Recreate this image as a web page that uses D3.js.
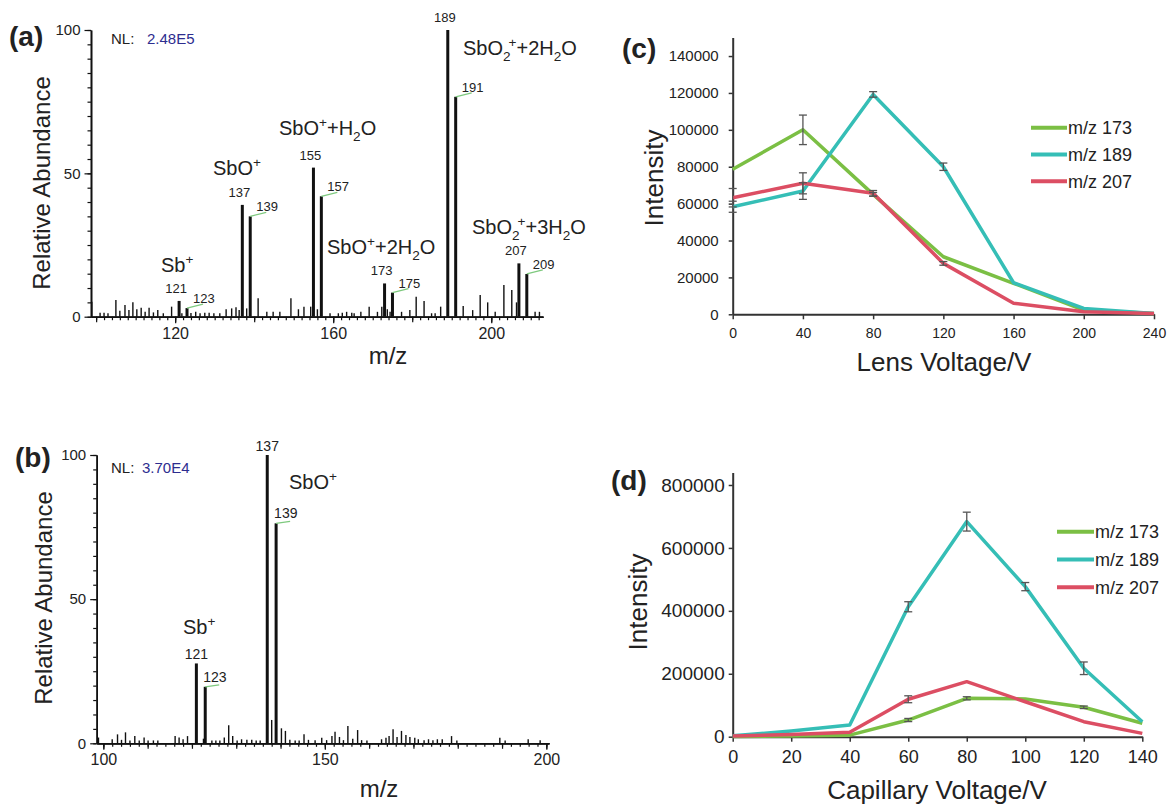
<!DOCTYPE html>
<html>
<head>
<meta charset="utf-8">
<script src="https://cdn.jsdelivr.net/npm/d3@7"></script>
<style>
  body { margin: 0; background: #fff; }
  svg { display: block; }
  text { font-family: "Liberation Sans", Arial, sans-serif; fill: #222; }
</style>
</head>
<body>
<svg id="fig" width="1171" height="804"></svg>
<script>
// ---------------- data ----------------
// Mass spectrum (a): [m/z, relative abundance %]
const specA_peaks = [
  [98.9,5.2],[101,1.4],[102,1.4],[103,1.2],[105,5.8],[106,2.1],[107.3,4.1],[108.3,2.3],[109.3,5.0],
  [110.3,2.6],[111.4,3.1],[112.4,1.7],[113.4,3.1],[114.5,1.5],[115.6,2.3],[117,1.2],[119.1,3.5],
  [121,5.5],[121.7,1.2],[123,3.0],[124,1.3],[125.2,1.7],[126.3,1.2],[127.5,1.4],[128.6,1.4],[129.8,1.2],
  [131.3,1.2],[132.9,2.6],[134.3,2.9],[135.4,3.3],[136.2,2.3],[137,39],[138.1,2.9],[139,35],[141,6.4],
  [143.2,1.7],[144.8,1.7],[146.5,1.7],[149.3,6.4],[151.2,2.6],[152.6,3.5],[154.3,3.5],[155,52],[156,2.6],
  [157,42],[159.2,1.2],[161.3,1.2],[162.3,1.4],[163.4,1.7],[164.7,1.4],[165.3,1.2],[167,1.7],[169.1,3.5],
  [171.2,1.7],[172.3,3.5],[173,11.6],[173.7,2.6],[174.4,1.7],[175,8.4],[177.3,1.7],[179.4,2.3],[181,7.0],
  [183,5.5],[184.9,1.2],[185.8,1.2],[187.2,3.5],[189,100],[191,76.7],[192.9,3.7],[195.3,2.3],[197.2,7.6],
  [199.1,5.0],[201,1.7],[203.2,11.1],[205.2,9.3],[206.4,5.0],[207,18.6],[209,14.9],[211.1,1.7],[212.2,1.7]
];
const specA_tagged   = [121, 137, 155, 173, 189, 207];
const specA_isotopes = [123, 139, 157, 175, 191, 209];
const specA_NL = "2.48E5";
const specA_xTicks = [120, 160, 200];

// Mass spectrum (b): [m/z, relative abundance %]
const specB_peaks = [
  [98.9,2.0],[102,1.4],[103.2,3.1],[104.1,1.2],[105,3.8],[106,1.0],[107.1,2.5],[108.1,1.0],[109.2,2.0],
  [110.1,1.0],[111.3,1.0],[112.3,1.0],[116.2,2.5],[117.1,2.0],[118,1.4],[119,2.5],[121,27.7],[122.6,1.6],
  [123,19.6],[124.5,1.0],[125.4,1.0],[126.3,1.0],[127.3,2.0],[128.3,6.3],[129.2,2.5],[130.2,1.0],[131.2,1.4],
  [132.4,1.2],[133.5,1.2],[134.5,1.0],[135.4,1.0],[137,100],[138,8.1],[139,76.3],[140.2,5.2],[141.1,4.3],
  [142.1,1.2],[143.3,1.0],[144.2,1.0],[145.3,3.1],[146.3,1.2],[147.8,1.1],[149.3,1.9],[150.4,1.1],[151.6,2.5],
  [152.3,4.0],[153.3,2.2],[154.2,1.1],[155.2,6.0],[156.3,1.6],[157.4,4.6],[158.3,1.1],[159.5,1.0],[162.8,1.4],
  [163.8,1.9],[164.5,2.5],[165.4,4.9],[166.3,2.2],[167.3,4.3],[168.3,2.9],[169.2,2.2],[170.3,1.9],[171.1,1.4],
  [172.4,1.1],[173.4,1.4],[174.4,1.1],[175.4,1.4],[176.5,1.4],[178.6,2.5],[179.8,1.0],[189.5,1.9],[190.7,1.0],
  [195.9,1.4],[198.6,1.1]
];
const specB_tagged   = [121, 137];
const specB_isotopes = [123, 139];
const specB_NL = "3.70E4";
const specB_xTicks = [100, 150, 200];

// Ion assignments: [text, mode] pieces ("" normal, "sup", "sub")
const ionsA = [
  [["Sb",""],["+","sup"]],
  [["SbO",""],["+","sup"]],
  [["SbO",""],["+","sup"],["+H",""],["2","sub"],["O",""]],
  [["SbO",""],["+","sup"],["+2H",""],["2","sub"],["O",""]],
  [["SbO",""],["2","sub"],["+","sup"],["+2H",""],["2","sub"],["O",""]],
  [["SbO",""],["2","sub"],["+","sup"],["+3H",""],["2","sub"],["O",""]]
];
const ionsB = [
  [["Sb",""],["+","sup"]],
  [["SbO",""],["+","sup"]]
];

// Lens voltage scan (c)
const lensV       = [0, 40, 80, 120, 160, 200, 240];
const lens173     = [78600, 100000, 65000, 31200, 16800, 2300, 500];
const lens173_err = [0, 8000, 1000, 0, 0, 0, 0];
const lens189     = [58300, 66800, 119200, 80000, 17100, 3200, 500];
const lens189_err = [3000, 4500, 1500, 2000, 0, 0, 0];
const lens207     = [63200, 71000, 65600, 27600, 6000, 1400, 500];
const lens207_err = [5000, 5700, 1500, 1000, 0, 0, 0];

// Capillary voltage scan (d)
const capV       = [0, 20, 40, 60, 80, 100, 120, 140];
const cap173     = [1000, 2000, 5000, 53000, 122000, 120000, 93500, 42600];
const cap173_err = [0, 0, 0, 5000, 5000, 0, 4000, 0];
const cap189     = [3000, 18000, 37000, 413000, 683600, 477000, 217500, 47700];
const cap189_err = [0, 0, 0, 16000, 30000, 13000, 20000, 0];
const cap207     = [2000, 7000, 14000, 119000, 175000, 111000, 47700, 10600];
const cap207_err = [0, 0, 0, 11000, 0, 0, 0, 0];

const seriesNames = ["m/z 173", "m/z 189", "m/z 207"];
const seriesColors = ["#7bbf44", "#35beb6", "#dc4e63"];

// ---------------- drawing ----------------
const svg = d3.select("#fig");
const FONT = '"Liberation Sans", Arial, sans-serif';

// text with superscript / subscript pieces
function richText(g, x, y, pieces, size, anchor) {
  const t = g.append("text").attr("x", x).attr("y", y)
    .attr("font-size", size).attr("text-anchor", anchor || "start");
  let cur = 0;
  pieces.forEach(([s, m], i) => {
    const target = m === "sup" ? -0.42 * size : m === "sub" ? 0.28 * size : 0;
    const ts = t.append("tspan").attr("dy", target - cur)
      .attr("font-size", m ? size * 0.68 : size).text(s);
    // stack a superscript right after a subscript
    if (m === "sup" && i > 0 && pieces[i - 1][1] === "sub") ts.attr("dx", -2);
    cur = target;
  });
  return t;
}

function styleAxis(g, color, width, fontSize) {
  g.attr("font-family", FONT).attr("font-size", fontSize);
  g.selectAll("path.domain").attr("stroke", color).attr("stroke-width", width);
  g.selectAll(".tick line").attr("stroke", color).attr("stroke-width", width * 0.75);
  g.selectAll(".tick text").attr("fill", "#222");
}

function drawSpectrum(o) {
  const g = svg.append("g");
  const x = d3.scaleLinear().domain(o.xDomain).range(o.xRange);
  const y = d3.scaleLinear().domain([0, 100]).range([o.y0, o.y100]);
  const bold = new Set([...o.tagged, ...o.isotopes]);

  // minor + major ticks on both axes
  const xMinor = d3.axisBottom(x).tickValues(d3.range(Math.ceil(o.xDomain[0] / 2) * 2, o.xDomain[1], 2))
    .tickSize(3.5).tickSizeOuter(0).tickFormat("");
  const xMid = d3.axisBottom(x).tickValues(d3.range(Math.ceil(o.xDomain[0] / o.midStep) * o.midStep, o.xDomain[1], o.midStep))
    .tickSize(5.5).tickSizeOuter(0).tickFormat("");
  const xMajor = d3.axisBottom(x).tickValues(o.xTicks).tickSize(6.5).tickPadding(4).tickSizeOuter(0);
  [xMinor, xMid, xMajor].forEach(ax => {
    const a = g.append("g").attr("transform", `translate(0,${o.y0})`).call(ax);
    styleAxis(a, "#111", 1.6, 16);
  });
  const yMinor = d3.axisLeft(y).tickValues(d3.range(0, 101, 5)).tickSize(3.5).tickSizeOuter(0).tickFormat("");
  const yMajor = d3.axisLeft(y).tickValues([0, 50, 100]).tickSize(6.5).tickPadding(4).tickSizeOuter(0);
  [yMinor, yMajor].forEach(ax => {
    const a = g.append("g").attr("transform", `translate(${o.xRange[0]},0)`).call(ax);
    styleAxis(a, "#111", 1.6, 15);
  });

  // peaks
  g.append("g").selectAll("line").data(o.peaks).join("line")
    .attr("x1", d => x(d[0])).attr("x2", d => x(d[0]))
    .attr("y1", o.y0).attr("y2", d => y(d[1]))
    .attr("stroke", "#111")
    .attr("stroke-width", d => bold.has(d[0]) ? 3 : 1.4);

  const peakOf = mz => o.peaks.find(p => p[0] === mz);

  // m/z tags on the main peaks
  o.tagged.forEach(mz => {
    const p = peakOf(mz);
    g.append("text").attr("x", x(mz) + o.tagDx).attr("y", y(p[1]) - o.tagGap)
      .attr("text-anchor", "middle").attr("font-size", o.tagSize).text(mz);
  });
  // isotope tags with a short leader
  o.isotopes.forEach(mz => {
    const p = peakOf(mz);
    const px = x(mz), py = y(p[1]);
    g.append("line").attr("x1", px).attr("y1", py).attr("x2", px + o.leadLen).attr("y2", py - o.leadRise)
      .attr("stroke", "#7ec97e").attr("stroke-width", 1.3);
    g.append("text").attr("x", px + o.isoDx).attr("y", py - o.isoGap)
      .attr("font-size", o.tagSize).text(mz);
  });

  // ion assignments
  o.ions.forEach((pieces, i) => {
    richText(g, o.ionPos[i][0], o.ionPos[i][1], pieces, 20);
  });

  // normalisation level
  const nl = g.append("text").attr("x", o.nlPos[0]).attr("y", o.nlPos[1]).attr("font-size", 15);
  nl.append("tspan").text("NL:");
  nl.append("tspan").attr("x", o.nlPos[2]).attr("fill", "#2d2d8f").text(o.nl);

  // axis titles and panel letter
  g.append("text").attr("transform", `translate(${o.yTitle[0]},${o.yTitle[1]}) rotate(-90)`)
    .attr("text-anchor", "middle").attr("font-size", 24).text("Relative Abundance");
  g.append("text").attr("x", o.xTitle[0]).attr("y", o.xTitle[1])
    .attr("text-anchor", "middle").attr("font-size", 24).text("m/z");
  g.append("text").attr("x", o.letter[0]).attr("y", o.letter[1])
    .attr("font-size", 28).attr("font-weight", "bold").attr("fill", "#111").text(o.letter[2]);
}

drawSpectrum({
  peaks: specA_peaks, tagged: specA_tagged, isotopes: specA_isotopes, ions: ionsA, nl: specA_NL,
  xTicks: specA_xTicks, midStep: 20,
  xDomain: [98.7, 213.1], xRange: [91, 543], y0: 316.7, y100: 30,
  tagDx: -3, tagGap: 8, tagSize: 13,
  leadLen: 16, leadRise: 4, isoDx: 6, isoGap: 5,
  ionPos: [[161, 272], [213, 175], [279, 135], [327, 254], [463, 55], [472, 234]],
  nlPos: [111, 44, 147],
  yTitle: [50, 183], xTitle: [388, 364], letter: [9, 46, "(a)"]
});

drawSpectrum({
  peaks: specB_peaks, tagged: specB_tagged, isotopes: specB_isotopes, ions: ionsB, nl: specB_NL,
  xTicks: specB_xTicks, midStep: 10,
  xDomain: [98.5, 200.6], xRange: [96.7, 549], y0: 743.3, y100: 455,
  tagDx: 0, tagGap: 4.5, tagSize: 14,
  leadLen: 14, leadRise: 2, isoDx: -2, isoGap: 5,
  ionPos: [[183, 634], [289, 489]],
  nlPos: [111, 473, 142],
  yTitle: [52, 598], xTitle: [379, 797], letter: [15, 467, "(b)"]
});

function drawScan(o) {
  const g = svg.append("g");
  const x = d3.scaleLinear().domain(o.xDomain).range(o.xRange);
  const y = d3.scaleLinear().domain(o.yDomain).range(o.yRange);

  const ax = g.append("g").attr("transform", `translate(0,${o.yRange[0]})`)
    .call(d3.axisBottom(x).tickValues(o.xs).tickSize(5).tickPadding(o.xPad).tickSizeOuter(0).tickFormat(d3.format("d")));
  styleAxis(ax, "#333", 2, o.xFont);
  const ay = g.append("g").attr("transform", `translate(${o.xRange[0]},0)`)
    .call(d3.axisLeft(y).tickValues(o.yTicks).tickSize(4).tickPadding(o.yPad).tickSizeOuter(0).tickFormat(d3.format("d")));
  styleAxis(ay, "#333", 2, o.yFont);

  const line = d3.line().x((d, i) => x(o.xs[i])).y(d => y(d));
  o.series.forEach((s, k) => {
    g.append("path").datum(s).attr("d", line).attr("fill", "none")
      .attr("stroke", seriesColors[k]).attr("stroke-width", 3.5).attr("stroke-linejoin", "round");
  });
  // error bars
  o.series.forEach((s, k) => {
    s.forEach((v, i) => {
      const e = o.errors[k][i];
      if (!e) return;
      const cx = x(o.xs[i]);
      const eg = g.append("g").attr("stroke", "#555").attr("stroke-width", 1.3);
      eg.append("line").attr("x1", cx).attr("x2", cx).attr("y1", y(v - e)).attr("y2", y(v + e));
      [v - e, v + e].forEach(b => eg.append("line").attr("x1", cx - 4).attr("x2", cx + 4).attr("y1", y(b)).attr("y2", y(b)));
    });
  });

  // legend
  seriesNames.forEach((name, k) => {
    const ly = o.legend[1] + k * o.legend[3];
    g.append("line").attr("x1", o.legend[0]).attr("x2", o.legend[0] + o.legend[2])
      .attr("y1", ly).attr("y2", ly).attr("stroke", seriesColors[k]).attr("stroke-width", 4);
    g.append("text").attr("x", o.legend[0] + o.legend[2] + 1).attr("y", ly + 6.5)
      .attr("font-size", 18).text(name);
  });

  g.append("text").attr("transform", `translate(${o.yTitle[0]},${o.yTitle[1]}) rotate(-90)`)
    .attr("text-anchor", "middle").attr("font-size", 26).text("Intensity");
  g.append("text").attr("x", o.xTitle[0]).attr("y", o.xTitle[1])
    .attr("text-anchor", "middle").attr("font-size", 26).text(o.xLabel);
  g.append("text").attr("x", o.letter[0]).attr("y", o.letter[1])
    .attr("font-size", 28).attr("font-weight", "bold").attr("fill", "#111").text(o.letter[2]);
}

drawScan({
  xs: lensV, series: [lens173, lens189, lens207], errors: [lens173_err, lens189_err, lens207_err],
  xDomain: [0, 240], xRange: [732.7, 1154], yDomain: [0, 150000], yRange: [314.3, 37.6],
  yTicks: d3.range(0, 140001, 20000), xFont: 14, yFont: 15, xPad: 9, yPad: 10,
  legend: [1031, 127.7, 36, 26.8],
  yTitle: [663, 178], xTitle: [944, 371], xLabel: "Lens Voltage/V", letter: [622, 58, "(c)"]
});

drawScan({
  xs: capV, series: [cap173, cap189, cap207], errors: [cap173_err, cap189_err, cap207_err],
  xDomain: [0, 140], xRange: [732.7, 1142.3], yDomain: [0, 840000], yRange: [736.7, 472.4],
  yTicks: d3.range(0, 800001, 200000), xFont: 18, yFont: 19, xPad: 9, yPad: 4,
  legend: [1057, 531.7, 37, 27.8],
  yTitle: [647, 602], xTitle: [937, 799], xLabel: "Capillary Voltage/V", letter: [611, 490, "(d)"]
});
</script>
</body>
</html>
